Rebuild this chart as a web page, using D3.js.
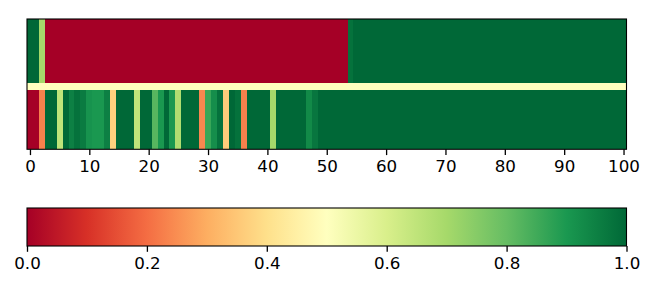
<!DOCTYPE html>
<html>
<head>
<meta charset="utf-8">
<script src="https://cdn.jsdelivr.net/npm/d3@7"></script>
<style>
  body { margin: 0; background: #fff; }
  text { font-family: "DejaVu Sans", sans-serif; }
</style>
</head>
<body>
<svg id="chart" width="654" height="281"></svg>
<script>
// --- data: one value per column (0..100) ---
const columns = d3.range(101);

const topRow = [
  1, 1, 0.7, 0, 0, 0, 0, 0, 0, 0,
  0, 0, 0, 0, 0, 0, 0, 0, 0, 0,
  0, 0, 0, 0, 0, 0, 0, 0, 0, 0,
  0, 0, 0, 0, 0, 0, 0, 0, 0, 0,
  0, 0, 0, 0, 0, 0, 0, 0, 0, 0,
  0, 0, 0, 0, 0.98, 1, 1, 1, 1, 1,
  1, 1, 1, 1, 1, 1, 1, 1, 1, 1,
  1, 1, 1, 1, 1, 1, 1, 1, 1, 1,
  1, 1, 1, 1, 1, 1, 1, 1, 1, 1,
  1, 1, 1, 1, 1, 1, 1, 1, 1, 1,
  1
];

const middleRow = [
  0.5, 0.5, 0.5, 0.5, 0.5, 0.5, 0.5, 0.5, 0.5, 0.5,
  0.5, 0.5, 0.5, 0.5, 0.5, 0.5, 0.5, 0.5, 0.5, 0.5,
  0.5, 0.5, 0.5, 0.5, 0.5, 0.5, 0.5, 0.5, 0.5, 0.5,
  0.5, 0.5, 0.5, 0.5, 0.5, 0.5, 0.5, 0.5, 0.5, 0.5,
  0.5, 0.5, 0.5, 0.5, 0.5, 0.5, 0.5, 0.5, 0.5, 0.5,
  0.5, 0.5, 0.5, 0.5, 0.5, 0.5, 0.5, 0.5, 0.5, 0.5,
  0.5, 0.5, 0.5, 0.5, 0.5, 0.5, 0.5, 0.5, 0.5, 0.5,
  0.5, 0.5, 0.5, 0.5, 0.5, 0.5, 0.5, 0.5, 0.5, 0.5,
  0.5, 0.5, 0.5, 0.5, 0.5, 0.5, 0.5, 0.5, 0.5, 0.5,
  0.5, 0.5, 0.5, 0.5, 0.5, 0.5, 0.5, 0.5, 0.5, 0.5,
  0.5
];

const bottomRow = [
  0, 0, 0.23, 1, 1, 0.65, 1, 0.95, 0.98, 0.96,
  0.91, 0.9, 0.9, 0.95, 0.37, 1, 1, 1, 0.65, 1,
  1, 0.82, 0.9, 1, 0.9, 0.68, 1, 1, 1, 0.24,
  0.86, 0.92, 0.98, 0.36, 1, 0.98, 0.23, 1, 1, 1,
  1, 0.7, 1, 1, 1, 1, 1, 0.93, 0.97, 1,
  1, 1, 1, 1, 1, 1, 1, 1, 1, 1,
  1, 1, 1, 1, 1, 1, 1, 1, 1, 1,
  1, 1, 1, 1, 1, 1, 1, 1, 1, 1,
  1, 1, 1, 1, 1, 1, 1, 1, 1, 1,
  1, 1, 1, 1, 1, 1, 1, 1, 1, 1,
  1
];

const xTicks = [0, 10, 20, 30, 40, 50, 60, 70, 80, 90, 100];
const cbTicks = [0.0, 0.2, 0.4, 0.6, 0.8, 1.0];

// relative heights of the three bands (the middle one is thin)
const rowSpans = [9.6, 1, 8.85];

// --- layout ---
const svg = d3.select("#chart");
const ax = { left: 27, right: 626.5, top: 19, bottom: 149.3 };
const cb = { left: 27, right: 626.5, top: 208, bottom: 246 };
const fontSize = 16.7;
const tickLen = 5.8;

// matplotlib RdYlGn: linear segments through the 11 brewer colours
const color = d3.scaleLinear()
  .domain(d3.range(11).map(i => i / 10))
  .range(d3.schemeRdYlGn[11])
  .interpolate(d3.interpolateRgb)
  .clamp(true);

const x = d3.scaleLinear().domain([-0.5, 100.5]).range([ax.left, ax.right]);

const rowEdges = [0];
rowSpans.forEach(s => rowEdges.push(rowEdges[rowEdges.length - 1] + s));
const y = d3.scaleLinear().domain([0, rowEdges[3]]).range([ax.top, ax.bottom]);

const rows = [topRow, middleRow, bottomRow];
const cells = [];
rows.forEach((vals, r) => {
  columns.forEach(c => cells.push({ r, c, v: vals[c] }));
});

// --- heatmap cells (crisp edges so neighbouring cells leave no seams) ---
svg.append("g")
  .attr("shape-rendering", "crispEdges")
  .selectAll("rect")
  .data(cells)
  .join("rect")
  .attr("x", d => x(d.c - 0.5))
  .attr("width", d => x(d.c + 0.5) - x(d.c - 0.5))
  .attr("y", d => y(rowEdges[d.r]))
  .attr("height", d => y(rowEdges[d.r + 1]) - y(rowEdges[d.r]))
  .attr("fill", d => color(d.v));

// frame
svg.append("rect")
  .attr("x", ax.left).attr("y", ax.top)
  .attr("width", ax.right - ax.left).attr("height", ax.bottom - ax.top)
  .attr("fill", "none").attr("stroke", "#000").attr("stroke-width", 1.1);

// x axis
const xAxis = svg.append("g")
  .attr("transform", `translate(0,${ax.bottom})`)
  .call(d3.axisBottom(x).tickValues(xTicks).tickSize(tickLen).tickPadding(5.5).tickFormat(d3.format("d")));
xAxis.select(".domain").remove();
xAxis.selectAll("line").attr("stroke", "#000").attr("stroke-width", 1.3);
xAxis.selectAll("text").attr("font-size", fontSize).attr("fill", "#000")
  .attr("font-family", "DejaVu Sans");

// --- colorbar ---
const cbx = d3.scaleLinear().domain([0, 1]).range([cb.left, cb.right]);
const grad = svg.append("defs").append("linearGradient")
  .attr("id", "cbgrad").attr("x1", "0%").attr("x2", "100%").attr("y1", "0%").attr("y2", "0%");
grad.selectAll("stop")
  .data(d3.range(0, 1.0001, 0.05))
  .join("stop")
  .attr("offset", d => `${d * 100}%`)
  .attr("stop-color", d => color(d));

svg.append("rect")
  .attr("x", cb.left).attr("y", cb.top)
  .attr("width", cb.right - cb.left).attr("height", cb.bottom - cb.top)
  .attr("fill", "url(#cbgrad)")
  .attr("stroke", "#000").attr("stroke-width", 1.1);

const cAxis = svg.append("g")
  .attr("transform", `translate(0,${cb.bottom})`)
  .call(d3.axisBottom(cbx).tickValues(cbTicks).tickSize(tickLen).tickPadding(5.5).tickFormat(d3.format(".1f")));
cAxis.select(".domain").remove();
cAxis.selectAll("line").attr("stroke", "#000").attr("stroke-width", 1.3);
cAxis.selectAll("text").attr("font-size", fontSize).attr("fill", "#000")
  .attr("font-family", "DejaVu Sans");
</script>
</body>
</html>
